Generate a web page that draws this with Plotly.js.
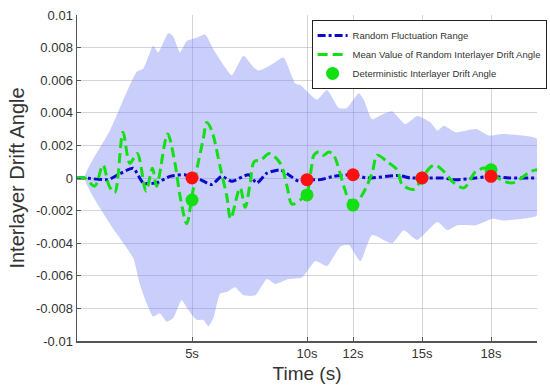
<!DOCTYPE html>
<html>
<head>
<meta charset="utf-8">
<script src="https://cdn.plot.ly/plotly-3.0.1.min.js"></script>
<style>html,body{margin:0;padding:0;background:#fff;}#chart{width:550px;height:392px;}</style>
</head>
<body>
<div id="chart"></div>
<script>
// Envelope of the random fluctuation band
const upperTime = [0.34,1.43,2.59,2.88,3.31,3.53,3.97,4.18,4.48,4.77,5.2,5.57,5.93,6.29,6.73,7.24,7.67,7.89,8.26,8.62,8.98,9.49,9.71,10.43,10.87,11.38,11.74,12.25,12.47,12.83,13.27,13.7,14.28,14.79,15.37,15.67,15.95,16.46,17.34,17.92,18.5,19.37,20];
const upperValue = [0,0.0029,0.0065,0.0067,0.0081,0.0077,0.0089,0.0087,0.0077,0.0084,0.0086,0.0088,0.0079,0.0071,0.0063,0.0075,0.0068,0.0066,0.0068,0.0071,0.0074,0.0058,0.0057,0.0048,0.0054,0.0043,0.0043,0.0052,0.0048,0.0036,0.0039,0.0041,0.0033,0.0038,0.0034,0.0029,0.0032,0.0028,0.0030,0.0026,0.0027,0.0026,0.0024];
const lowerTime = [0.34,1.43,2.44,2.73,3.03,3.31,3.6,3.89,4.18,4.55,4.84,5.2,5.49,5.71,5.93,6.22,6.51,6.87,7.24,7.75,8.26,8.62,9.2,9.78,10.36,10.87,11.45,11.81,12.32,12.83,13.7,14.21,14.79,15.67,16.1,16.54,17.34,18.06,18.5,19.37,20];
const lowerValue = [0,-0.0028,-0.0049,-0.0065,-0.0077,-0.0085,-0.0083,-0.0088,-0.0086,-0.0075,-0.0081,-0.0087,-0.0087,-0.0091,-0.0086,-0.0071,-0.0070,-0.0067,-0.0072,-0.0072,-0.0062,-0.0065,-0.0062,-0.0061,-0.0051,-0.0054,-0.0042,-0.0041,-0.0051,-0.0035,-0.0040,-0.0032,-0.0038,-0.0027,-0.0032,-0.0029,-0.0029,-0.0025,-0.0026,-0.0025,-0.0023];

// Random fluctuation range (centre line)
const rangeTime = [0,0.34,1.35,1.79,2.44,2.88,3.46,4.04,4.69,5,5.35,5.86,6.29,6.73,7.46,7.82,8.26,8.84,9.2,9.64,10,10.58,11.16,12,12.6,14.0,14.5,15,15.88,16.46,17.34,18,18.8,20];
const rangeValue = [0,0,-0.0001,0.0002,0.0006,-0.0003,-0.0003,0.0001,0.0002,0,-0.0001,-0.0004,0.0001,-0.0002,0.0002,-0.0003,0.0003,0.0005,0.0002,-0.0002,-0.0001,-0.0001,0.0001,0.0002,0,0.00015,0,0,0,-0.0001,0,0.0001,0,0];

// Mean value of random interlayer drift angle
const meanTime = [0,0.34,0.77,1.13,1.4,1.64,2.0,2.3,2.62,3.0,3.28,3.46,3.94,4.26,4.48,4.77,5.0,5.25,5.49,5.64,5.86,6.22,6.51,6.68,7.09,7.31,7.53,7.7,8.0,8.36,8.84,9.13,9.35,9.75,10.0,10.2,10.3,10.5,10.72,10.95,11.16,11.6,11.81,12.0,12.32,12.83,13.05,13.49,13.92,14.14,14.65,15.0,15.4,15.59,15.95,16.39,16.83,17.34,17.77,18.0,18.43,18.94,19.73,20];
const meanValue = [0,0,-0.0005,0.0008,-0.0005,-0.0009,0.0028,0.0009,0.0015,-0.0008,0.0006,-0.0005,0.0027,0.0009,-0.0011,-0.0028,-0.0011,0.0008,0.0024,0.0034,0.0029,0.0007,-0.0011,-0.0025,-0.0006,-0.0018,-0.0003,0.0010,0.0011,0.0015,0.0009,-0.0005,-0.0016,-0.0013,-0.0009,0.0007,0.0014,0.0016,0.0014,0.0016,0.0014,-0.0005,-0.0013,-0.0015,-0.0012,0.0003,0.0014,0.0010,0.0005,-0.0004,-0.0007,0.0,0.0007,0.0008,0.0004,-0.0003,-0.0006,0.0004,0.0006,0.0003,-0.0001,-0.0003,0.0004,0.0005];

// Deterministic interlayer drift angle and random-range markers at key times
const keyTime = [5,10,12,15,18];
const deterministicValue = [-0.00135,-0.00104,-0.00166,0.0,0.0005];
const rangeMarkerValue = [0.0,-0.0001,0.0002,0.0,0.0001];

const xTickLabels = ['5s','10s','12s','15s','18s'];
const yTickVals = [-0.01,-0.008,-0.006,-0.004,-0.002,0,0.002,0.004,0.006,0.008,0.01];
const yTickLabels = ['-0.01','-0.008','-0.006','-0.004','-0.002','0','0.002','0.004','0.006','0.008','0.01'];

const bandX = upperTime.concat(lowerTime.slice().reverse());
const bandY = upperValue.concat(lowerValue.slice().reverse());

const font = '"Liberation Sans", Arial, sans-serif';

const traces = [
  {x: bandX, y: bandY, type: 'scatter', mode: 'lines', fill: 'toself',
   fillcolor: 'rgba(120,132,245,0.40)', line: {width: 0, color: 'rgba(0,0,0,0)', shape: 'spline', smoothing: 0.5},
   showlegend: false, hoverinfo: 'skip'},
  {x: rangeTime, y: rangeValue, type: 'scatter', mode: 'lines', name: 'Random Fluctuation Range',
   line: {color: '#0a0ac8', width: 3, dash: '8px,3px,3px,3px', shape: 'spline', smoothing: 0.6}},
  {x: meanTime, y: meanValue, type: 'scatter', mode: 'lines', name: 'Mean Value of Random Interlayer Drift Angle',
   line: {color: '#12e012', width: 3, dash: '10px,5px', shape: 'spline', smoothing: 0.9}},
  {x: keyTime, y: deterministicValue, type: 'scatter', mode: 'markers', name: 'Deterministic Interlayer Drift Angle',
   marker: {color: '#12e012', size: 13}},
  {x: keyTime, y: rangeMarkerValue, type: 'scatter', mode: 'markers', showlegend: false,
   marker: {color: '#ff1010', size: 13}}
];

const layout = {
  width: 550, height: 392,
  margin: {l: 77, r: 13, t: 15, b: 51, autoexpand: false},
  paper_bgcolor: '#fff', plot_bgcolor: '#fff',
  font: {family: font, color: '#333', size: 13},
  showlegend: true,
  legend: {x: 0.51, y: 0.985, xanchor: 'left', yanchor: 'top',
    bgcolor: '#fff', bordercolor: '#222', borderwidth: 1,
    font: {family: font, size: 9.5, color: '#333'}, tracegroupgap: 0},
  xaxis: {range: [0, 20], tickvals: keyTime, ticktext: xTickLabels,
    showgrid: true, gridcolor: 'rgba(160,160,175,0.45)', gridwidth: 1,
    zeroline: false, showline: true, linecolor: '#555', linewidth: 1.5,
    ticks: 'inside', ticklen: 4, tickcolor: '#555',
    tickfont: {size: 13, color: '#333'},
    title: {text: 'Time (s)', font: {size: 19, color: '#333'}, standoff: 6}},
  yaxis: {range: [-0.01, 0.01], tickvals: yTickVals, ticktext: yTickLabels,
    showgrid: true, gridcolor: 'rgba(160,160,175,0.45)', gridwidth: 1,
    zeroline: false, showline: true, linecolor: '#555', linewidth: 1.5,
    ticks: 'inside', ticklen: 4, tickcolor: '#555',
    tickfont: {size: 13, color: '#333'},
    title: {text: 'Interlayer Drift Angle', font: {size: 20, color: '#333'}, standoff: 6}}
};

Plotly.newPlot('chart', traces, layout, {displayModeBar: false, staticPlot: true});
</script>
</body>
</html>
